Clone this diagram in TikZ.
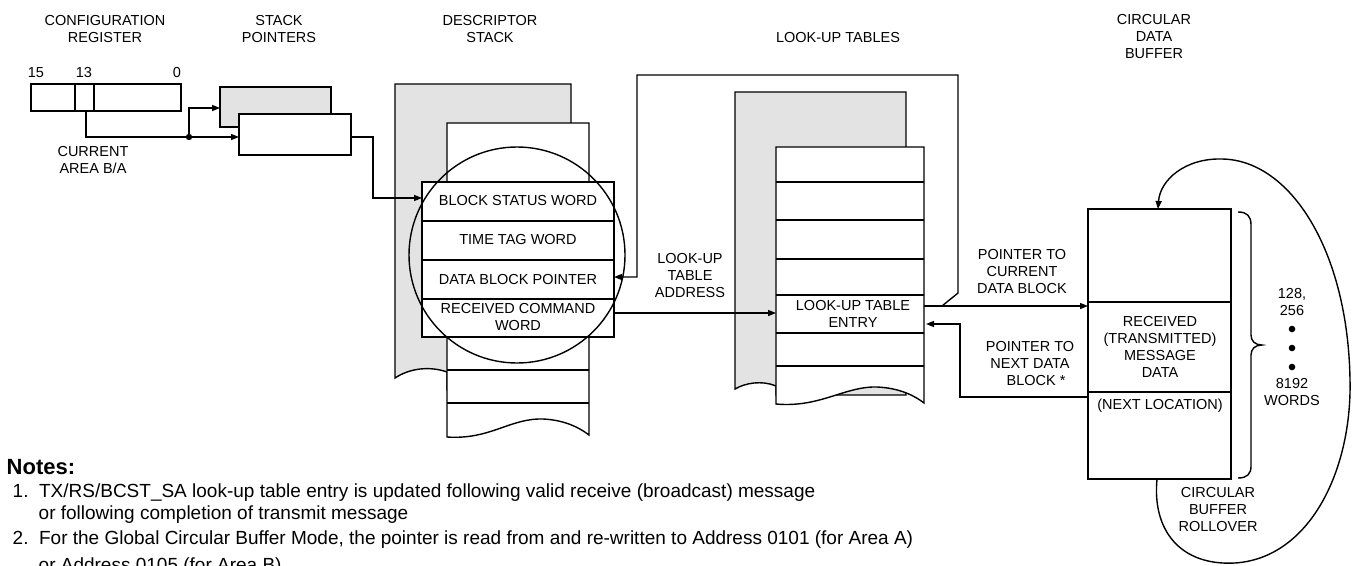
\documentclass[tikz,border=0pt]{standalone}
\usepackage{fontspec}
\setmainfont{Liberation Sans}
\usetikzlibrary{arrows.meta}
\begin{document}
\begin{tikzpicture}[x=1pt,y=-1pt,line width=1.4pt,
  lbl/.style={font=\fontsize{14.5}{17}\selectfont,align=center,inner sep=0pt},
  note/.style={font=\fontsize{19}{23}\selectfont,anchor=west,inner sep=0pt},
  wbox/.style={draw,fill=white},
  gbox/.style={draw,fill=gray!22},
  arr/.style={-{Triangle[length=8pt,width=6pt]}},
  ]
\useasboundingbox (0,0) rectangle (1356,565);

% ---------- titles ----------
\node[lbl] (tcr) at (105,29) {CONFIGURATION\\REGISTER};
\node[lbl] (tsp) at (279,29) {STACK\\POINTERS};
\node[lbl] (tds) at (490,29) {DESCRIPTOR\\STACK};
\node[lbl] (tlt) at (838,38) {LOOK-UP TABLES};
\node[lbl] (tcb) at (1154,37) {CIRCULAR\\DATA\\BUFFER};

% ---------- configuration register ----------
\draw (31,84) rectangle (181,111);
\draw (75,84) -- (75,111) (94,84) -- (94,111);
\node[lbl] (b15) at (36,73) {15};
\node[lbl] (b13) at (84,73) {13};
\node[lbl] (b0) at (177,73) {0};
\node[lbl] (cur) at (93,160) {CURRENT\\AREA B/A};
\coordinate (bit13) at (86,111);
\coordinate (dot) at (189,137);

% ---------- stack pointers ----------
\draw[gbox] (220,87) rectangle (331,127);
\draw[wbox] (239,114) rectangle (351,155);
\coordinate (spB) at (220,108);
\coordinate (spA) at (239,137);
\coordinate (spOut) at (351,137);
\draw (bit13) |- (dot);
\draw[arr] (dot) -- (spA);
\draw[arr] (dot) |- (spB);
\fill (dot) circle (3.2pt);

% ---------- descriptor stack ----------
\draw[gbox] (395,378) -- (395,84) -- (571,84) -- (571,390) -- (447,390) -- (447,372)
   .. controls (430,366) and (410,368) .. (395,378) -- cycle;
\draw[wbox] (447,437) -- (447,123) -- (589,123) -- (589,435)
   .. controls (580,428) and (565,420) .. (543,419)
   .. controls (510,418) and (490,440) .. (447,437) -- cycle;
\draw (447,370) -- (589,370) (447,403) -- (589,403);
\draw[wbox] (422,182) rectangle (614,337);
\draw (422,221) -- (614,221) (422,260) -- (614,260) (422,299) -- (614,299);
\node[lbl] (bsw) at (518,201) {BLOCK STATUS WORD};
\node[lbl] (ttw) at (518,240) {TIME TAG WORD};
\node[lbl] (dbp) at (518,280) {DATA BLOCK POINTER};
\node[lbl] (rcw) at (518,317) {RECEIVED COMMAND\\WORD};
\draw (517,255) circle (108);
\coordinate (dsIn) at (422,198);
\coordinate (dbpIn) at (614,277);
\coordinate (rcwOut) at (614,313);
\draw[arr] (spOut) -- (373,137) -- (373,198) -- (dsIn);

% ---------- look-up tables ----------
\draw[gbox] (735,389) -- (735,92) -- (906,92) -- (906,395) -- (776,395) -- (776,386)
   .. controls (762,380) and (745,383) .. (735,389) -- cycle;
\draw[wbox] (776,404) -- (776,147) -- (924,147) -- (924,403)
   .. controls (915,396) and (900,388) .. (877,387)
   .. controls (845,386) and (820,408) .. (776,404) -- cycle;
\foreach \yy in {182,220,259,295,333,366} \draw (776,\yy) -- (924,\yy);
\node[lbl] (lte) at (853,314) {LOOK-UP TABLE\\ENTRY};
\node[lbl] (lta) at (690,276) {LOOK-UP\\TABLE\\ADDRESS};
\coordinate (ltIn) at (776,313);
\coordinate (ltOut) at (924,306);
\coordinate (ltNext) at (926,324);
\coordinate (join) at (942,306);
\draw[arr] (rcwOut) -- (ltIn);
\draw[arr] (join) -- (958,293) -- (958,75) -- (637,75) -- (637,277) -- (dbpIn);

% ---------- circular data buffer ----------
\draw[wbox] (1088,209) rectangle (1231,479);
\draw (1088,302) -- (1231,302) (1088,392) -- (1231,392);
\node[lbl] (rmd) at (1160,347) {RECEIVED\\(TRANSMITTED)\\MESSAGE\\DATA};
\node[lbl] (nxl) at (1160,406) {(NEXT LOCATION)};
\coordinate (bufIn) at (1088,306);
\coordinate (bufNext) at (1088,397);
\coordinate (bufTop) at (1158,209);
\coordinate (bufBot) at (1157,479);
\draw[arr] (ltOut) -- (bufIn);
\draw[arr] (bufNext) -- (960,397) -- (960,324) -- (ltNext);
\node[lbl] (pcur) at (1022,272) {POINTER TO\\CURRENT\\DATA BLOCK};
\node[lbl] (pnxt) at (1030,364) {POINTER TO\\NEXT DATA\\\ \ \ BLOCK *};

% brace
\draw (1238,212) .. controls (1247,212) and (1251,216) .. (1251,225) -- (1251,335)
  .. controls (1251,341) and (1255,345) .. (1262,345)
  .. controls (1255,345) and (1251,349) .. (1251,355) -- (1251,466)
  .. controls (1251,474) and (1247,478) .. (1238,478);
\node[lbl] (w1) at (1292,302) {128,\\256};
\fill (1292,329) circle (3.3pt) (1292,348) circle (3.3pt) (1292,367) circle (3.3pt);
\node[lbl] (w2) at (1292,392) {8192\\WORDS};

% rollover loop
\draw[arr] (bufBot) .. controls (1152,530) and (1180,566) .. (1235,563)
  .. controls (1310,558) and (1352,470) .. (1350,380)
  .. controls (1348,250) and (1290,160) .. (1222,159)
  .. controls (1185,158) and (1160,180) .. (bufTop);
\node[lbl] (cbr) at (1218,509) {CIRCULAR\\BUFFER\\ROLLOVER};

% ---------- notes ----------
\node[anchor=west,inner sep=0pt,font=\bfseries\fontsize{22}{26}\selectfont] (nh) at (6,467) {Notes:};
\node[note] (n1) at (12,493) {1.\ \ TX/RS/BCST\_SA look-up table entry is updated following valid receive (broadcast) message};
\node[note] (n1b) at (38,515) {or following completion of transmit message};
\node[note] (n2) at (12,540) {2.\ \ For the Global Circular Buffer Mode, the pointer is read from and re-written to Address 0101 (for Area A)};
\node[note] (n2b) at (38,567) {or Address 0105 (for Area B)};
\end{tikzpicture}
\end{document}
